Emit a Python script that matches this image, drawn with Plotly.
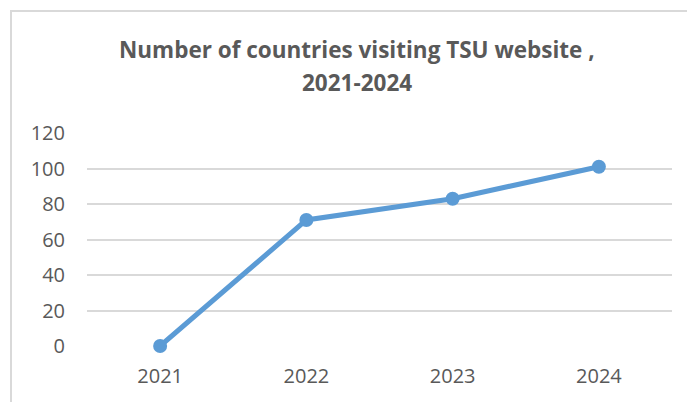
import plotly.graph_objects as go

years = ["2021", "2022", "2023", "2024"]
countries = [0, 71, 83, 101]
y_ticks = [0, 20, 40, 60, 80, 100, 120]

title_lines = ["Number of countries visiting TSU website ,", "2021-2024"]

W, H = 687, 402
L, R, T, B = 87, 15, 133, 56
plot_w = W - L - R
plot_h = H - T - B


def px_to_paper_x(px):
    return (px - L) / plot_w


def px_to_paper_y(py):
    return (H - B - py) / plot_h


fig = go.Figure()
fig.add_trace(go.Scatter(
    x=years, y=countries,
    mode="lines+markers",
    line=dict(color="#5B9BD5", width=5),
    marker=dict(color="#5B9BD5", size=14),
    cliponaxis=False,
    showlegend=False,
    hoverinfo="x+y",
))

# light frame around the chart area (open on the right and bottom edges)
fig.add_shape(type="rect", xref="paper", yref="paper",
              x0=px_to_paper_x(11), x1=1.2,
              y0=-0.5, y1=px_to_paper_y(11),
              line=dict(color="#D9D9D9", width=2), layer="below")

# two-line bold title
for line, cy in zip(title_lines, [49, 83]):
    fig.add_annotation(text=f"<b>{line}</b>", xref="paper", yref="paper",
                       x=px_to_paper_x(356.5), y=px_to_paper_y(cy),
                       xanchor="center", yanchor="middle", showarrow=False,
                       font=dict(size=22.5, color="#595959", family="Open Sans"))

fig.update_layout(
    width=W, height=H,
    margin=dict(l=L, r=R, t=T, b=B),
    paper_bgcolor="white", plot_bgcolor="white",
    font=dict(family="Open Sans", color="#595959"),
    xaxis=dict(type="category", range=[-0.5, 3.5], showgrid=False,
               showline=False, ticks="", zeroline=False,
               tickfont=dict(size=20, color="#595959"), ticklabelstandoff=16),
    yaxis=dict(range=[0, 120], tickvals=y_ticks, showgrid=True,
               gridcolor="#D9D9D9", gridwidth=2, zeroline=False,
               showline=False, ticks="",
               tickfont=dict(size=20, color="#595959"), ticklabelstandoff=21),
)

fig.write_html("out.html")
